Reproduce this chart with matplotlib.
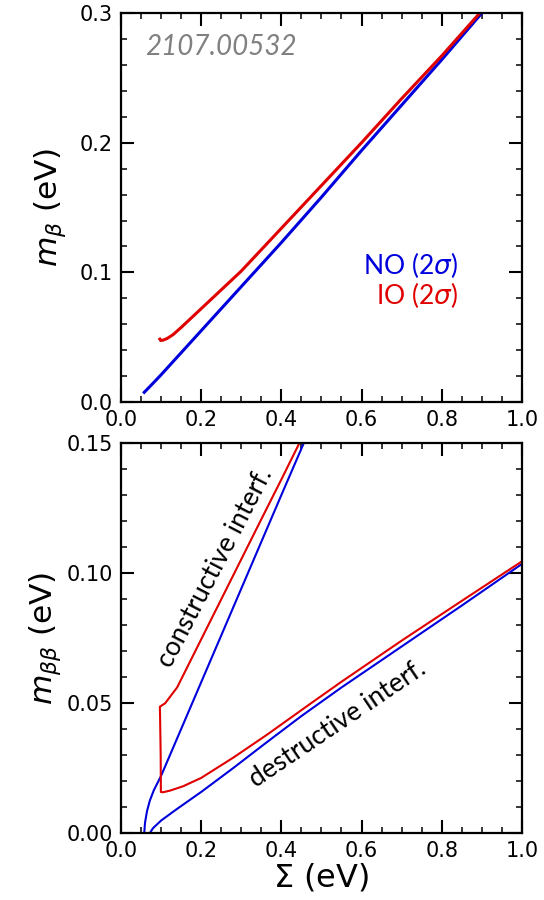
import matplotlib
matplotlib.use("Agg")
import matplotlib.pyplot as plt
from matplotlib.ticker import MultipleLocator, FormatStrFormatter

# m_beta vs Sigma
sig_no_b = [0.058, 0.08, 0.10, 0.15, 0.20, 0.30, 0.40, 0.50, 0.60, 0.70, 0.80, 0.90]
mb_no = [0.0075, 0.0145, 0.021, 0.038, 0.055, 0.089, 0.123, 0.158, 0.194, 0.229, 0.264, 0.300]
sig_io_b = [0.097, 0.099, 0.105, 0.115, 0.13, 0.15, 0.20, 0.25, 0.30, 0.40, 0.50, 0.60, 0.70, 0.80, 0.895]
mb_io = [0.0485, 0.0475, 0.0477, 0.0490, 0.0520, 0.0575, 0.0720, 0.0865, 0.1010, 0.1340, 0.1670,
         0.2000, 0.2340, 0.2670, 0.300]

# m_betabeta vs Sigma, NO upper / lower edges
sig_no_up = [0.058, 0.060, 0.065, 0.072, 0.082, 0.10, 0.15, 0.20, 0.25, 0.30, 0.35, 0.40, 0.456]
mbb_no_up = [0.0, 0.004, 0.0085, 0.0125, 0.0165, 0.022, 0.040, 0.058, 0.076, 0.094, 0.112, 0.130, 0.150]
sig_no_lo = [0.072, 0.08, 0.10, 0.14, 0.20, 0.28, 0.36, 0.45, 0.55, 0.65, 0.75, 0.85, 1.0]
mbb_no_lo = [0.0, 0.0019, 0.0048, 0.0093, 0.0158, 0.0250, 0.0345, 0.0450, 0.0560, 0.0665, 0.0770,
             0.0875, 0.1035]
# IO contour, lower edge -> vertical cut -> upper edge
sig_io = [1.0, 0.85, 0.70, 0.55, 0.472, 0.364, 0.28, 0.20, 0.155, 0.122, 0.105, 0.0995, 0.099,
          0.0975, 0.097, 0.11, 0.14, 0.20, 0.25, 0.30, 0.35, 0.40, 0.445]
mbb_io = [0.1045, 0.0893, 0.0740, 0.0582, 0.0497, 0.0378, 0.0290, 0.0212, 0.0180, 0.0163, 0.0157,
          0.0158, 0.030, 0.045, 0.0486, 0.0499, 0.0560, 0.0745, 0.0899, 0.1053, 0.1207, 0.1360,
          0.150]

blue = "#0000dd"
red = "#e00000"
txt_font = ["Lato", "DejaVu Sans"]

fig = plt.figure(figsize=(5.44, 9), dpi=100)
ax1 = fig.add_axes([0.2224, 0.5533, 0.737, 0.4322])
ax2 = fig.add_axes([0.2224, 0.0744, 0.737, 0.4333])

for ax in (ax1, ax2):
    ax.set_xlim(0, 1)
    ax.xaxis.set_major_locator(MultipleLocator(0.2))
    ax.xaxis.set_minor_locator(MultipleLocator(0.05))
    ax.xaxis.set_major_formatter(FormatStrFormatter("%.1f"))
    ax.tick_params(which="both", direction="in", top=True, right=True, labelsize=15, pad=6)
    ax.tick_params(which="major", length=9.5, width=1.5)
    ax.tick_params(which="minor", length=4.5, width=1.1)
    for s in ax.spines.values():
        s.set_linewidth(1.6)

ax1.plot(sig_no_b, mb_no, color=blue, lw=2.2)
ax1.plot(sig_io_b, mb_io, color=red, lw=2.2)
ax1.set_ylim(0, 0.3)
ax1.yaxis.set_major_locator(MultipleLocator(0.1))
ax1.yaxis.set_minor_locator(MultipleLocator(0.02))
ax1.yaxis.set_major_formatter(FormatStrFormatter("%.1f"))
ax1.set_ylabel(r"$m_\beta$ (eV)", fontsize=22.5, labelpad=8)
ax1.text(0.06, 0.274, "2107.00532", fontsize=20, style="italic", color="#808080",
         family=txt_font, va="center")
ax1.text(0.84, 0.1056, r"NO (2$\sigma$)", fontsize=19, color=blue, family=txt_font,
         ha="right", va="center")
ax1.text(0.84, 0.0825, r"IO (2$\sigma$)", fontsize=19, color=red, family=txt_font,
         ha="right", va="center")

ax2.plot(sig_no_up, mbb_no_up, color=blue, lw=1.5)
ax2.plot(sig_no_lo, mbb_no_lo, color=blue, lw=1.5)
ax2.plot(sig_io, mbb_io, color=red, lw=1.5)
ax2.set_ylim(0, 0.15)
ax2.yaxis.set_major_locator(MultipleLocator(0.05))
ax2.yaxis.set_minor_locator(MultipleLocator(0.01))
ax2.yaxis.set_major_formatter(FormatStrFormatter("%.2f"))
ax2.set_ylabel(r"$m_{\beta\beta}$ (eV)", fontsize=22.5, labelpad=2)
ax2.set_xlabel(r"$\Sigma$ (eV)", fontsize=23, labelpad=0)
ax2.text(0.235, 0.102, "constructive interf.", fontsize=19, family=txt_font,
         rotation=62.5, ha="center", va="center", rotation_mode="anchor")
ax2.text(0.54, 0.042, "destructive interf.", fontsize=19, family=txt_font,
         rotation=34, ha="center", va="center", rotation_mode="anchor")

fig.savefig("out.png", dpi=100)
